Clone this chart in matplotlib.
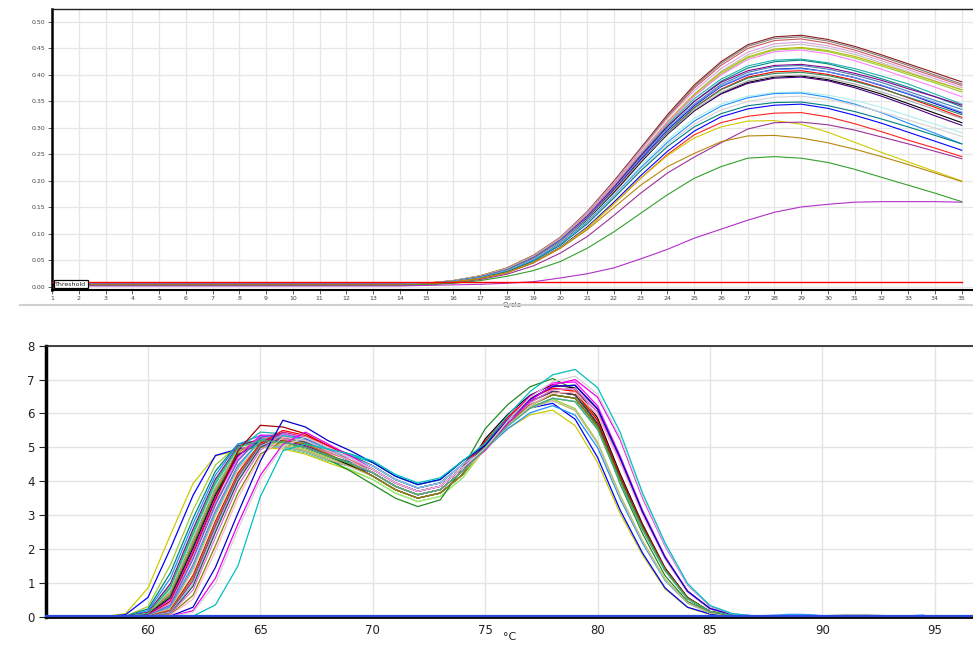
import matplotlib
matplotlib.use("Agg")
import matplotlib.pyplot as plt
from matplotlib.lines import Line2D

# ---------------- amplification plot data ----------------
cycles = list(range(1, 36))
early_cycles = cycles[:14]
late_cycles = cycles[14:]
threshold = 0.0085

amp_colors = ['#8B1A1A', '#7F7F7F', '#CD5C5C', '#DDA0DD', '#C0C0C0', '#B8B800',
              '#9ACD32', '#FF80FF', '#20B2AA', '#008B8B', '#8B008B', '#4682B4',
              '#0000CD', '#6495ED', '#FF0000', '#2E8B57', '#000000', '#4B0082',
              '#A9A9A9', '#AFEEEE', '#1E90FF', '#D3D3D3', '#008080', '#0000FF',
              '#FF2222', '#CCCC00', '#993399', '#B8860B', '#33A02C', '#B030C8']

amp_baseline = [0.006, 0.005, 0.006, 0.005, 0.005, 0.006, 0.005, 0.006, 0.005, 0.005,
                0.005, 0.004, 0.005, 0.005, 0.004, 0.005, 0.004, 0.005, 0.005, 0.005,
                0.005, 0.004, 0.004, 0.004, 0.004, 0.004, 0.004, 0.004, 0.003, 0.002]

amp_late = [
    [.007, .012, .021, .036, .060, .094, .142, .200, .262, .325, .381, .425, .457, .472, .475, .467, .454, .438, .421, .404, .387],
    [.007, .012, .021, .035, .059, .093, .141, .198, .260, .322, .378, .422, .454, .469, .472, .464, .451, .435, .418, .400, .383],
    [.007, .012, .020, .035, .058, .092, .139, .196, .258, .320, .375, .418, .450, .465, .468, .460, .447, .431, .414, .397, .380],
    [.007, .012, .021, .035, .059, .093, .140, .197, .258, .318, .370, .412, .443, .459, .462, .455, .443, .427, .410, .393, .376],
    [.006, .011, .020, .034, .057, .090, .136, .192, .252, .312, .364, .407, .438, .454, .458, .451, .439, .423, .406, .389, .372],
    [.007, .012, .021, .035, .058, .091, .137, .193, .253, .312, .363, .405, .434, .449, .452, .446, .435, .420, .404, .388, .372],
    [.006, .011, .020, .034, .057, .090, .135, .190, .250, .309, .360, .402, .432, .447, .450, .444, .432, .417, .401, .385, .368],
    [.006, .011, .020, .034, .057, .090, .136, .192, .252, .310, .360, .400, .429, .444, .447, .440, .427, .411, .394, .377, .359],
    [.006, .011, .019, .033, .056, .089, .134, .189, .249, .306, .355, .392, .417, .428, .430, .423, .412, .398, .383, .364, .345],
    [.006, .010, .019, .032, .054, .087, .132, .186, .245, .302, .350, .388, .413, .425, .428, .421, .408, .393, .377, .359, .340],
    [.006, .010, .019, .032, .055, .088, .133, .188, .247, .303, .350, .386, .408, .418, .420, .414, .403, .390, .374, .359, .343],
    [.006, .011, .019, .032, .054, .086, .130, .184, .242, .298, .345, .382, .405, .416, .418, .411, .400, .386, .369, .352, .335],
    [.006, .010, .018, .031, .053, .085, .129, .183, .241, .296, .342, .378, .400, .411, .413, .406, .395, .380, .364, .346, .328],
    [.006, .011, .019, .032, .054, .087, .131, .185, .243, .298, .344, .379, .401, .410, .412, .406, .395, .381, .365, .348, .330],
    [.005, .010, .017, .029, .050, .081, .124, .177, .235, .291, .338, .373, .396, .406, .408, .401, .390, .375, .357, .339, .320],
    [.006, .010, .018, .031, .052, .084, .127, .180, .237, .292, .338, .372, .394, .403, .405, .399, .388, .374, .358, .342, .325],
    [.005, .010, .018, .030, .052, .083, .126, .179, .235, .288, .332, .365, .386, .396, .398, .391, .379, .364, .346, .328, .310],
    [.006, .010, .018, .031, .053, .085, .129, .183, .238, .290, .333, .364, .384, .394, .396, .389, .376, .360, .342, .323, .305],
    [.006, .010, .018, .031, .053, .085, .128, .181, .237, .290, .334, .367, .389, .398, .400, .394, .383, .368, .352, .335, .318],
    [.006, .010, .018, .030, .051, .082, .124, .175, .229, .278, .318, .345, .360, .367, .368, .362, .352, .339, .323, .307, .291],
    [.006, .010, .018, .030, .051, .081, .122, .172, .225, .273, .313, .341, .357, .365, .366, .358, .345, .329, .309, .290, .270],
    [.005, .009, .017, .029, .049, .079, .120, .170, .222, .269, .307, .334, .350, .358, .360, .354, .343, .330, .315, .300, .284],
    [.005, .009, .017, .029, .049, .079, .119, .168, .219, .265, .302, .327, .342, .348, .349, .342, .331, .317, .302, .286, .270],
    [.005, .009, .016, .027, .046, .075, .113, .160, .210, .256, .294, .321, .336, .343, .345, .337, .324, .309, .292, .275, .258],
    [.005, .009, .016, .027, .046, .074, .111, .157, .205, .250, .287, .310, .322, .328, .329, .321, .308, .293, .277, .262, .246],
    [.005, .009, .016, .027, .046, .074, .111, .157, .205, .248, .281, .302, .313, .314, .307, .292, .273, .254, .236, .218, .200],
    [.005, .008, .014, .024, .040, .064, .095, .135, .177, .215, .245, .272, .298, .310, .311, .306, .296, .283, .270, .256, .242],
    [.005, .009, .016, .027, .046, .073, .108, .150, .192, .227, .252, .274, .285, .286, .281, .272, .260, .246, .231, .215, .199],
    [.004, .007, .012, .020, .031, .048, .073, .104, .139, .174, .205, .227, .243, .246, .243, .235, .222, .207, .192, .177, .161],
    [.003, .004, .005, .007, .010, .017, .025, .036, .053, .071, .092, .109, .126, .141, .151, .156, .160, .161, .161, .161, .160],
]

# ---------------- melt curve data ----------------
melt_temps = list(range(58, 88))
melt_colors = ['#CCCC00', '#0000FF', '#9ACD32', '#008080', '#1E90FF', '#800080',
               '#20B2AA', '#90EE90', '#999999', '#CD853F', '#228B22', '#000000',
               '#FF00FF', '#AA0000', '#FF69B4', '#4169E1', '#BA55D3', '#00CED1',
               '#D2B48C', '#FF0000', '#6B8E23', '#C71585', '#87CEEB', '#2F4F4F',
               '#DA70D6', '#808000', '#FFB6C1', '#0000CD', '#EE00EE', '#D3D3D3',
               '#00C0C0', '#3CB371']
melt_values = [
    [0, 0.09, 0.85, 2.42, 3.93, 4.75, 4.9, 5.0, 4.95, 4.8, 4.55, 4.32, 4.05, 3.65, 3.4, 3.55, 4.1, 4.96, 5.55, 5.96, 6.1, 5.64, 4.55, 3.05, 1.82, 0.82, 0.27, 0.07, 0.02, 0],
    [0, 0.06, 0.57, 2.02, 3.58, 4.76, 4.95, 5.05, 5.0, 4.85, 4.6, 4.45, 4.25, 3.85, 3.6, 3.75, 4.3, 5.12, 5.73, 6.16, 6.3, 5.83, 4.7, 3.15, 1.88, 0.85, 0.28, 0.08, 0.02, 0],
    [0, 0.02, 0.30, 1.54, 3.14, 4.48, 5.05, 5.15, 5.1, 4.95, 4.7, 4.45, 4.15, 3.75, 3.5, 3.65, 4.2, 5.08, 5.73, 6.21, 6.43, 6.14, 5.15, 3.59, 2.24, 1.11, 0.41, 0.12, 0.03, 0],
    [0, 0.015, 0.23, 1.3, 2.9, 4.3, 5.1, 5.2, 5.15, 5.0, 4.75, 4.57, 4.35, 3.95, 3.7, 3.85, 4.4, 5.02, 5.71, 6.25, 6.55, 6.45, 5.61, 4.04, 2.61, 1.38, 0.54, 0.15, 0.04, 0],
    [0, 0.01, 0.18, 1.14, 2.74, 4.18, 5.09, 5.35, 5.3, 5.15, 4.9, 4.7, 4.45, 4.05, 3.8, 3.95, 4.5, 4.93, 5.55, 6.02, 6.23, 5.95, 4.99, 3.48, 2.17, 1.07, 0.4, 0.11, 0.03, 0],
    [0, 0.01, 0.13, 0.98, 2.58, 4.06, 5.03, 5.25, 5.2, 5.05, 4.8, 4.5, 4.15, 3.75, 3.5, 3.65, 4.2, 5.1, 5.8, 6.35, 6.65, 6.55, 5.7, 4.1, 2.65, 1.4, 0.55, 0.15, 0.04, 0],
    [0, 0, 0.09, 0.85, 2.42, 3.93, 4.96, 5.45, 5.4, 5.25, 5.0, 4.8, 4.55, 4.15, 3.9, 4.05, 4.6, 5.05, 5.8, 6.42, 6.8, 6.83, 6.13, 4.69, 3.09, 1.75, 0.75, 0.24, 0.06, 0.01],
    [0, 0, 0.09, 0.79, 2.34, 3.86, 4.92, 5.05, 5.0, 4.85, 4.6, 4.35, 4.05, 3.65, 3.4, 3.55, 4.1, 5.04, 5.68, 6.16, 6.38, 6.09, 5.11, 3.56, 2.23, 1.1, 0.41, 0.11, 0.03, 0],
    [0, 0, 0.08, 0.74, 2.26, 3.79, 4.88, 5.2, 5.15, 5.0, 4.75, 4.52, 4.25, 3.85, 3.6, 3.75, 4.3, 5.02, 5.71, 6.25, 6.55, 6.45, 5.61, 4.04, 2.61, 1.38, 0.54, 0.15, 0.04, 0],
    [0, 0, 0.07, 0.68, 2.18, 3.72, 4.84, 5.3, 5.25, 5.1, 4.85, 4.62, 4.35, 3.95, 3.7, 3.85, 4.4, 5.18, 5.89, 6.45, 6.75, 6.65, 5.79, 4.16, 2.69, 1.42, 0.56, 0.15, 0.04, 0],
    [0, 0, 0.065, 0.63, 2.1, 3.65, 4.8, 5.1, 5.05, 4.9, 4.65, 4.3, 3.9, 3.5, 3.25, 3.45, 4.4, 5.55, 6.26, 6.79, 7.03, 6.71, 5.63, 3.92, 2.45, 1.21, 0.45, 0.13, 0.03, 0],
    [0, 0, 0.06, 0.57, 2.02, 3.58, 4.76, 5.2, 5.15, 5.0, 4.75, 4.47, 4.15, 3.75, 3.5, 3.65, 4.2, 5.25, 5.97, 6.54, 6.85, 6.75, 5.87, 4.22, 2.73, 1.44, 0.57, 0.15, 0.04, 0],
    [0, 0, 0.05, 0.52, 1.94, 3.51, 4.72, 5.36, 5.35, 5.2, 4.95, 4.62, 4.25, 3.85, 3.6, 3.75, 4.3, 5.12, 5.88, 6.51, 6.9, 6.93, 6.22, 4.75, 3.14, 1.78, 0.76, 0.24, 0.06, 0.01],
    [0, 0, 0.04, 0.46, 1.86, 3.44, 4.9, 5.65, 5.6, 5.4, 5.05, 4.77, 4.45, 4.05, 3.8, 3.95, 4.5, 5.1, 5.8, 6.35, 6.65, 6.55, 5.7, 4.1, 2.65, 1.4, 0.55, 0.15, 0.04, 0],
    [0, 0, 0.035, 0.41, 1.78, 3.37, 4.64, 5.3, 5.25, 5.1, 4.85, 4.62, 4.35, 3.95, 3.7, 3.85, 4.4, 4.97, 5.71, 6.32, 6.7, 6.73, 6.04, 4.62, 3.05, 1.73, 0.74, 0.23, 0.06, 0.01],
    [0, 0, 0.03, 0.35, 1.7, 3.3, 4.6, 5.3, 5.4, 5.25, 5.0, 4.75, 4.45, 4.05, 3.8, 3.95, 4.5, 5.02, 5.71, 6.25, 6.55, 6.45, 5.61, 4.04, 2.61, 1.38, 0.54, 0.15, 0.04, 0],
    [0, 0, 0.024, 0.3, 1.54, 3.14, 4.48, 5.2, 5.15, 5.0, 4.75, 4.52, 4.25, 3.85, 3.6, 3.75, 4.3, 4.95, 5.63, 6.16, 6.45, 6.35, 5.53, 3.98, 2.57, 1.36, 0.53, 0.15, 0.04, 0],
    [0, 0, 0.021, 0.28, 1.46, 3.06, 4.42, 5.21, 5.35, 5.2, 4.95, 4.77, 4.55, 4.15, 3.9, 4.05, 4.6, 5.05, 5.8, 6.42, 6.8, 6.83, 6.13, 4.69, 3.09, 1.75, 0.75, 0.24, 0.06, 0.01],
    [0, 0, 0.018, 0.25, 1.38, 2.98, 4.36, 5.1, 5.05, 4.9, 4.65, 4.42, 4.15, 3.75, 3.5, 3.65, 4.2, 5.04, 5.68, 6.16, 6.38, 6.09, 5.11, 3.56, 2.23, 1.1, 0.41, 0.11, 0.03, 0],
    [0, 0, 0.012, 0.2, 1.22, 2.82, 4.24, 5.12, 5.5, 5.35, 5.05, 4.72, 4.35, 3.95, 3.7, 3.85, 4.4, 5.18, 5.89, 6.45, 6.75, 6.65, 5.79, 4.16, 2.69, 1.42, 0.56, 0.15, 0.04, 0],
    [0, 0, 0.01, 0.18, 1.14, 2.74, 4.18, 5.09, 5.3, 5.15, 4.9, 4.6, 4.25, 3.85, 3.6, 3.75, 4.3, 5.02, 5.71, 6.25, 6.55, 6.45, 5.61, 4.04, 2.61, 1.38, 0.54, 0.15, 0.04, 0],
    [0, 0, 0.006, 0.15, 1.06, 2.66, 4.12, 5.06, 5.45, 5.3, 5.0, 4.7, 4.35, 3.95, 3.7, 3.85, 4.4, 5.05, 5.8, 6.42, 6.8, 6.83, 6.13, 4.69, 3.09, 1.75, 0.75, 0.24, 0.06, 0.01],
    [0, 0, 0.005, 0.13, 0.98, 2.58, 4.06, 5.03, 5.3, 5.15, 4.9, 4.7, 4.45, 4.05, 3.8, 3.95, 4.5, 4.95, 5.63, 6.16, 6.45, 6.35, 5.53, 3.98, 2.57, 1.36, 0.53, 0.15, 0.04, 0],
    [0, 0, 0, 0.1, 0.9, 2.5, 4.0, 5.0, 5.3, 5.15, 4.9, 4.6, 4.25, 3.85, 3.6, 3.75, 4.3, 5.1, 5.8, 6.35, 6.65, 6.55, 5.7, 4.1, 2.65, 1.4, 0.55, 0.15, 0.04, 0],
    [0, 0, 0, 0.09, 0.79, 2.34, 3.86, 4.92, 5.4, 5.3, 5.0, 4.7, 4.35, 3.95, 3.7, 3.85, 4.4, 4.97, 5.71, 6.32, 6.7, 6.73, 6.04, 4.62, 3.05, 1.73, 0.74, 0.23, 0.06, 0.01],
    [0, 0, 0, 0.065, 0.63, 2.1, 3.65, 4.8, 5.2, 5.1, 4.8, 4.5, 4.15, 3.75, 3.5, 3.65, 4.2, 5.02, 5.71, 6.25, 6.55, 6.45, 5.61, 4.04, 2.61, 1.38, 0.54, 0.15, 0.04, 0],
    [0, 0, 0, 0.05, 0.52, 1.94, 3.51, 4.72, 5.3, 5.2, 4.9, 4.6, 4.25, 3.85, 3.6, 3.75, 4.3, 4.9, 5.63, 6.23, 6.6, 6.63, 5.95, 4.55, 3.0, 1.7, 0.73, 0.23, 0.06, 0.01],
    [0, 0, 0, 0.02, 0.28, 1.46, 3.06, 4.6, 5.8, 5.6, 5.2, 4.9, 4.55, 4.15, 3.9, 4.05, 4.6, 5.05, 5.8, 6.42, 6.8, 6.83, 6.13, 4.69, 3.09, 1.75, 0.75, 0.24, 0.06, 0.01],
    [0, 0, 0, 0.01, 0.18, 1.14, 2.74, 4.18, 5.09, 5.45, 5.1, 4.75, 4.35, 3.95, 3.7, 3.85, 4.4, 4.91, 5.7, 6.37, 6.84, 7.0, 6.48, 5.23, 3.5, 2.09, 0.94, 0.31, 0.08, 0.02],
    [0, 0, 0, 0.01, 0.13, 0.98, 2.58, 4.06, 5.03, 5.3, 5.0, 4.7, 4.35, 3.95, 3.7, 3.85, 4.4, 4.98, 5.78, 6.47, 6.94, 7.1, 6.57, 5.3, 3.55, 2.12, 0.95, 0.32, 0.08, 0.02],
    [0, 0, 0, 0, 0.015, 0.35, 1.5, 3.55, 4.9, 5.1, 4.95, 4.8, 4.6, 4.2, 3.95, 4.1, 4.6, 5.12, 5.94, 6.65, 7.14, 7.3, 6.76, 5.45, 3.65, 2.18, 0.98, 0.33, 0.09, 0.02],
    [0, 0.005, 0.1, 0.9, 2.5, 4.0, 5.0, 5.2, 5.15, 5.0, 4.75, 4.52, 4.25, 3.85, 3.6, 3.75, 4.3, 4.95, 5.63, 6.16, 6.45, 6.35, 5.53, 3.98, 2.57, 1.36, 0.53, 0.15, 0.04, 0],
]

tail_temps = [86, 87, 88, 88.5, 89, 89.5, 90, 91, 92, 93, 94, 94.5]
tail_colors = ['#3399FF', '#000000']
tail_values = [
    [0.04, 0.02, 0.05, 0.07, 0.07, 0.06, 0.03, 0.02, 0.02, 0.02, 0.03, 0.05],
    [0.02, 0.01, 0.01, 0.02, 0.02, 0.02, 0.03, 0.04, 0.04, 0.03, 0.02, 0.01],
]
ntc_level = 0.03

# ---------------- figure ----------------
W, H = 973, 647
fig = plt.figure(figsize=(W / 100, H / 100), dpi=100)

# ---- top: amplification ----
ax1 = fig.add_axes([52 / W, 1 - 290 / H, (W - 52) / W, (290 - 9) / H])
ax1.set_xlim(1, 35.42)
ax1.set_ylim(-0.0057, 0.5245)
ax1.set_xticks(cycles)
ax1.set_yticks([i * 0.05 for i in range(11)])
ax1.set_yticklabels([f"{i * 0.05:.2f}" for i in range(11)])
ax1.grid(True, color='#e6e6e6', lw=0.9)
ax1.set_axisbelow(True)
ax1.tick_params(labelsize=4.5, colors='#444444', length=3, width=0.6, pad=1.5)
ax1.spines['right'].set_visible(False)
ax1.spines['left'].set_linewidth(1.8)
ax1.spines['left'].set_color('black')
ax1.spines['top'].set_linewidth(1.0)
ax1.spines['top'].set_color('#222222')
ax1.spines['bottom'].set_linewidth(1.5)
ax1.spines['bottom'].set_color('black')

for col, base, late in zip(amp_colors, amp_baseline, amp_late):
    ys = [base] * len(early_cycles) + late
    ax1.plot(cycles, ys, color=col, lw=0.8)

ax1.plot([cycles[0], cycles[-1]], [threshold, threshold], color='red', lw=1.0, zorder=4)
ax1.text(1.12, 0.0002, 'Threshold', fontsize=4.5, color='#222222', ha='left', va='bottom', zorder=5,
         bbox=dict(boxstyle='square,pad=0.25', fc='white', ec='black', lw=0.9))
ax1.set_xlabel('Cycle', fontsize=5, color='#444444', labelpad=0.5)

fig.add_artist(Line2D([20 / W, 1.0], [1 - 305 / H, 1 - 305 / H], color='#d0d0d0', lw=1.5))

# ---- bottom: melt ----
ax2 = fig.add_axes([46 / W, 1 - 616.7 / H, (W - 46) / W, 271 / H])
ax2.set_xlim(55.46, 96.7)
ax2.set_ylim(0, 8)
ax2.set_xticks([60, 65, 70, 75, 80, 85, 90, 95])
ax2.set_yticks(list(range(0, 9)))
ax2.grid(True, color='#e4e4e4', lw=1.0)
ax2.set_axisbelow(True)
ax2.tick_params(axis='y', labelsize=8.5, colors='#222222', length=5, width=0.8, pad=3)
ax2.tick_params(axis='x', labelsize=8.5, colors='#222222', length=0, pad=5)
ax2.spines['right'].set_visible(False)
ax2.spines['left'].set_linewidth(2.5)
ax2.spines['left'].set_color('black')
ax2.spines['top'].set_linewidth(1.2)
ax2.spines['top'].set_color('#222222')
ax2.spines['bottom'].set_linewidth(2.0)
ax2.spines['bottom'].set_color('black')

for col, vals in zip(melt_colors, melt_values):
    ax2.plot(melt_temps, vals, color=col, lw=0.9)
for col, vals in zip(tail_colors, tail_values):
    ax2.plot(tail_temps, vals, color=col, lw=0.9)
ax2.axhline(ntc_level, color='#2B4BE0', lw=1.6, zorder=3, clip_on=False)
ax2.set_xlabel('°C', fontsize=8, color='#222222', labelpad=-3)

fig.savefig('out.png', dpi=100)
